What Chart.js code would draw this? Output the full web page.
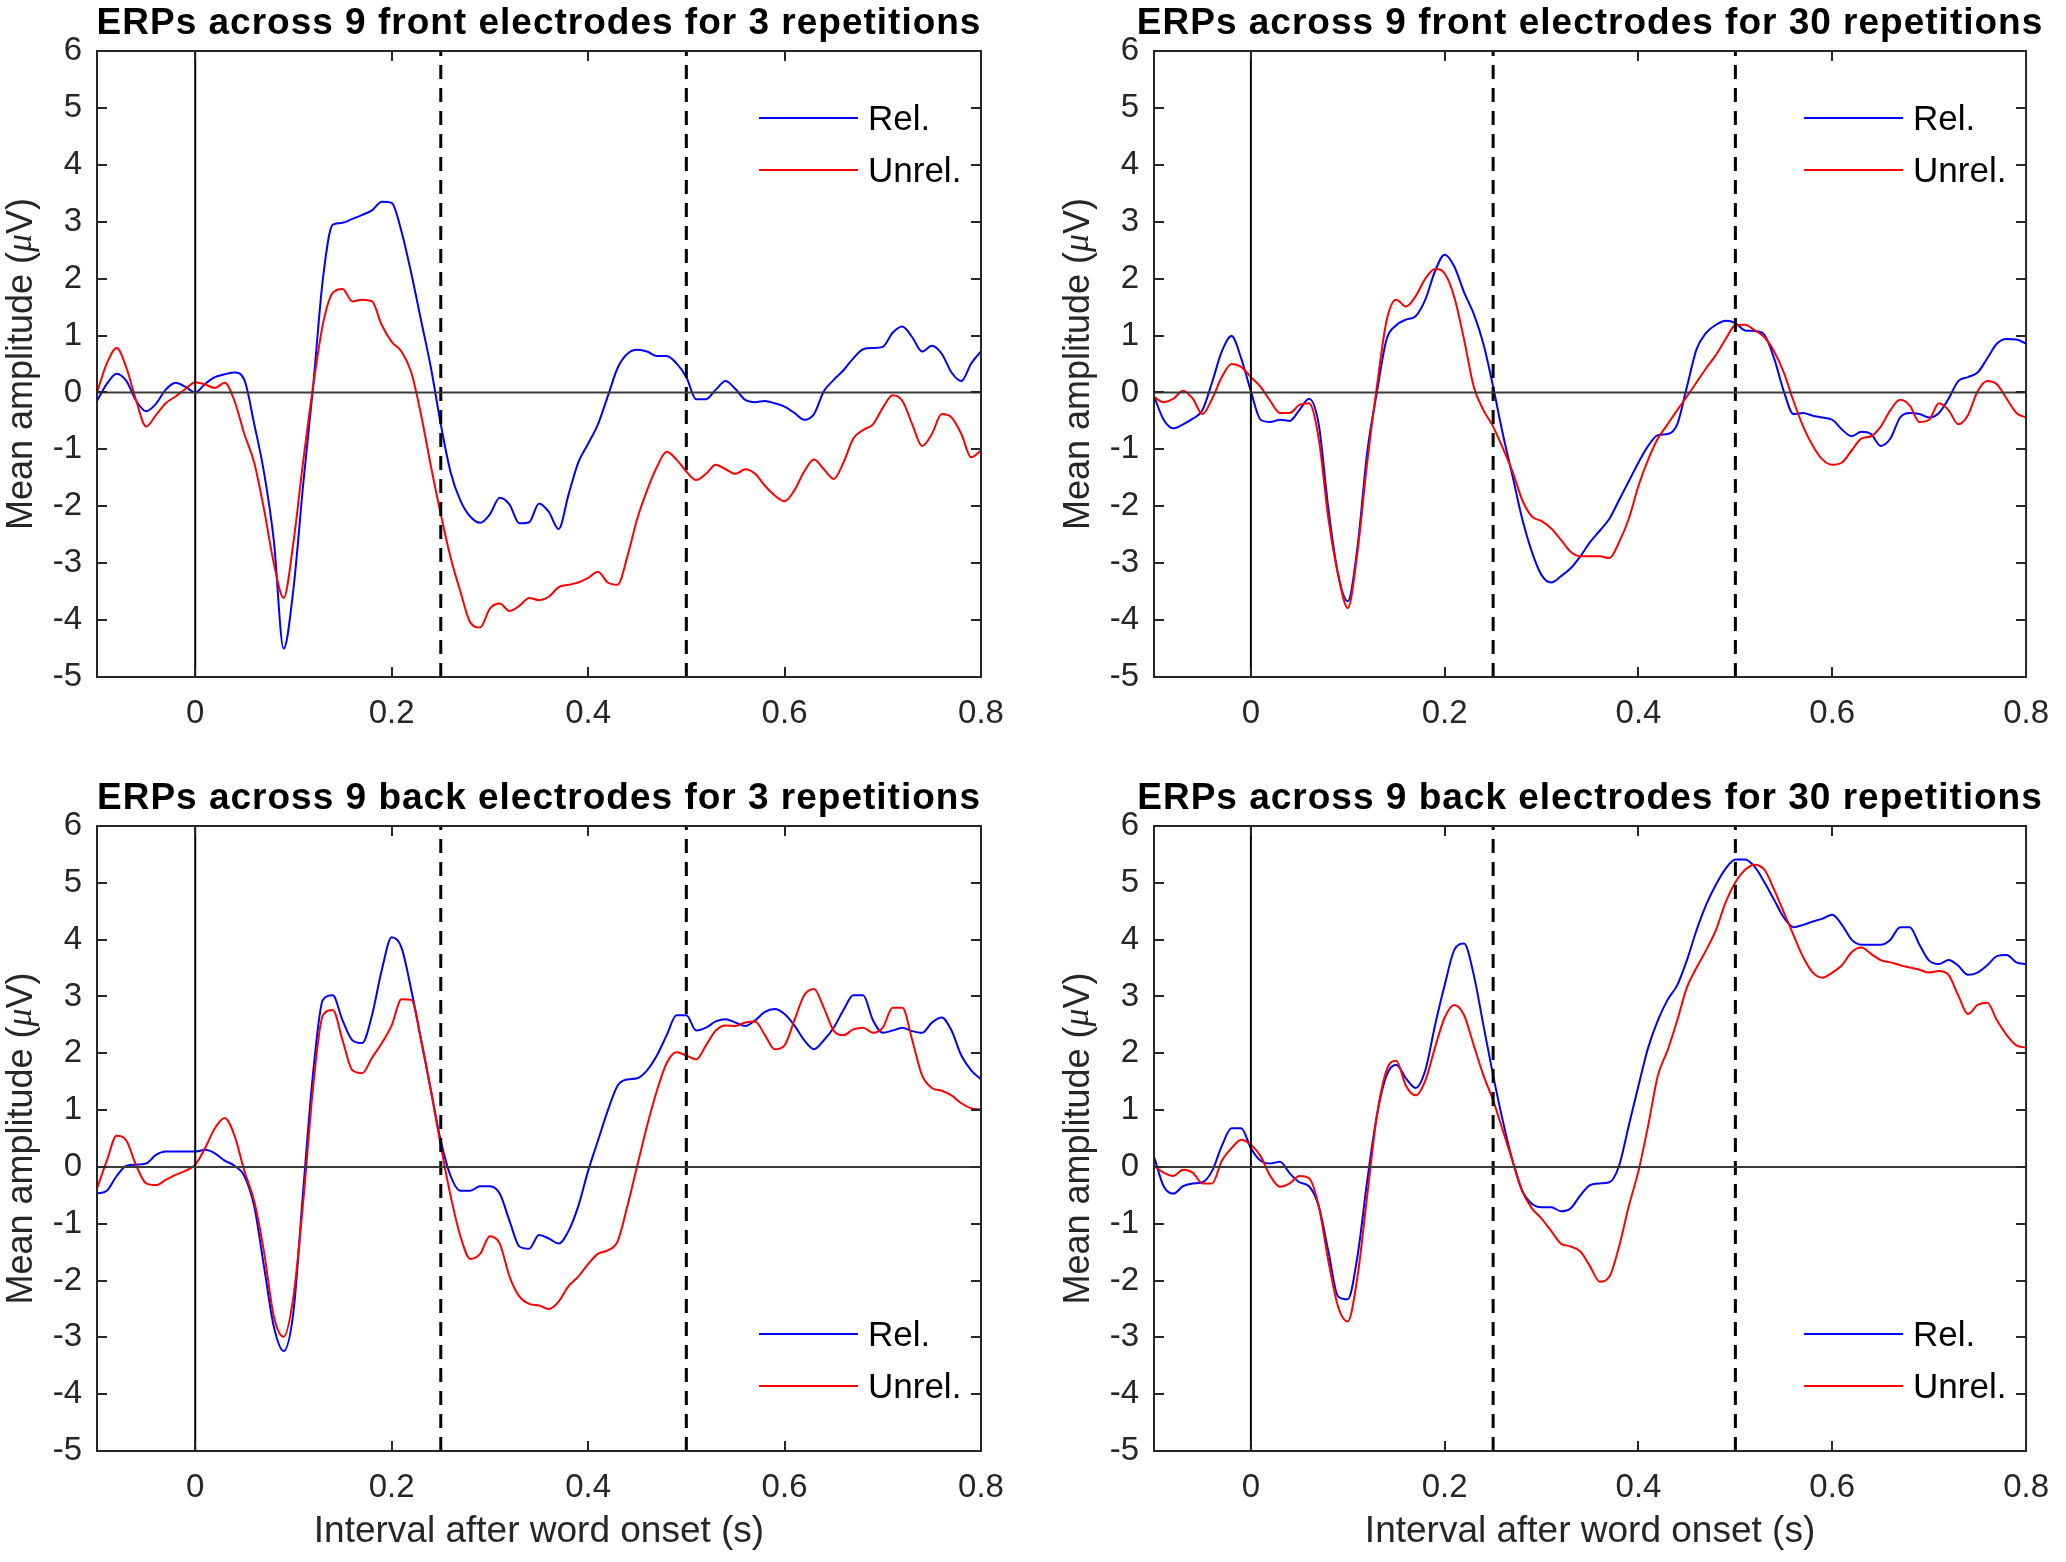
<!DOCTYPE html>
<html>
<head>
<meta charset="utf-8">
<title>ERPs across front and back electrodes</title>
<script src="https://cdn.jsdelivr.net/npm/chart.js@4.4.1/dist/chart.umd.min.js"></script>
<style>
  html, body { margin: 0; padding: 0; background: #fff; }
  #fig { position: relative; width: 2066px; height: 1562px; background: #fff; }
  .panel { position: absolute; }
</style>
</head>
<body>
<div id="fig">
  <div class="panel" style="left:0;top:0;width:1033px;height:775px"><canvas id="frontFew"></canvas></div>
  <div class="panel" style="left:1033px;top:0;width:1033px;height:775px"><canvas id="frontMany"></canvas></div>
  <div class="panel" style="left:0;top:775px;width:1033px;height:787px"><canvas id="backFew"></canvas></div>
  <div class="panel" style="left:1033px;top:775px;width:1033px;height:787px"><canvas id="backMany"></canvas></div>
</div>
<script>
// ── Axes ──
const xRange = [-0.1, 0.8];
const yRange = [-5, 6];
const xTicks = [0, 0.2, 0.4, 0.6, 0.8];
const yTicks = [-5, -4, -3, -2, -1, 0, 1, 2, 3, 4, 5, 6];
const onset = 0;
const windowEdges = [0.25, 0.5];

// sample times (s), one per 10 ms
const times = [
  -0.10, -0.09, -0.08, -0.07, -0.06, -0.05, -0.04, -0.03, -0.02, -0.01,
   0.00,  0.01,  0.02,  0.03,  0.04,  0.05,  0.06,  0.07,  0.08,  0.09,
   0.10,  0.11,  0.12,  0.13,  0.14,  0.15,  0.16,  0.17,  0.18,  0.19,
   0.20,  0.21,  0.22,  0.23,  0.24,  0.25,  0.26,  0.27,  0.28,  0.29,
   0.30,  0.31,  0.32,  0.33,  0.34,  0.35,  0.36,  0.37,  0.38,  0.39,
   0.40,  0.41,  0.42,  0.43,  0.44,  0.45,  0.46,  0.47,  0.48,  0.49,
   0.50,  0.51,  0.52,  0.53,  0.54,  0.55,  0.56,  0.57,  0.58,  0.59,
   0.60,  0.61,  0.62,  0.63,  0.64,  0.65,  0.66,  0.67,  0.68,  0.69,
   0.70,  0.71,  0.72,  0.73,  0.74,  0.75,  0.76,  0.77,  0.78,  0.79,
   0.80
];

// ── Mean amplitudes (µV) ──
const frontFewRel = [
  -0.15, 0.15, 0.33, 0.2, -0.15, -0.33, -0.2, 0.05, 0.17, 0.1,
  0.0, 0.15, 0.27, 0.32, 0.35, 0.22, -0.55, -1.4, -2.6, -4.5,
  -3.45, -1.6, 0.1, 2.0, 2.95, 2.98, 3.05, 3.12, 3.2, 3.35,
  3.33, 2.83, 2.09, 1.26, 0.43, -0.56, -1.4, -1.9, -2.18, -2.29,
  -2.14, -1.85, -1.97, -2.3, -2.28, -1.95, -2.1, -2.4, -1.8, -1.23,
  -0.9, -0.56, -0.07, 0.43, 0.68, 0.75, 0.72, 0.64, 0.64, 0.51,
  0.27, -0.12, -0.12, 0.05, 0.2, 0.06, -0.13, -0.17, -0.15, -0.19,
  -0.25, -0.36, -0.48, -0.38, 0.02, 0.22, 0.39, 0.6, 0.76, 0.78,
  0.8, 1.05, 1.16, 0.97, 0.72, 0.82, 0.68, 0.35, 0.2, 0.51,
  0.72
];
const frontFewUnrel = [
  0.0, 0.51, 0.78, 0.43, -0.15, -0.6, -0.4, -0.19, -0.07, 0.06,
  0.18, 0.14, 0.08, 0.17, -0.15, -0.73, -1.23, -2.05, -3.0, -3.61,
  -2.63, -1.2, 0.1, 1.2, 1.75, 1.82, 1.6, 1.63, 1.6, 1.18,
  0.89, 0.72, 0.35, -0.4, -1.3, -2.14, -2.9, -3.5, -4.04, -4.13,
  -3.8, -3.71, -3.84, -3.75, -3.61, -3.65, -3.59, -3.42, -3.38, -3.34,
  -3.26, -3.15, -3.34, -3.38, -2.88, -2.22, -1.72, -1.31, -1.04, -1.18,
  -1.39, -1.54, -1.43, -1.27, -1.35, -1.43, -1.35, -1.43, -1.64, -1.81,
  -1.91, -1.72, -1.39, -1.18, -1.35, -1.52, -1.23, -0.81, -0.66, -0.56,
  -0.27, -0.05, -0.15, -0.56, -0.94, -0.73, -0.38, -0.44, -0.73, -1.14,
  -1.02
];
const frontManyRel = [
  -0.07, -0.48, -0.63, -0.56, -0.46, -0.31, 0.18, 0.72, 0.99, 0.6,
  0.02, -0.48, -0.52, -0.48, -0.5, -0.31, -0.11, -0.56, -2.05, -3.2,
  -3.67, -2.72, -1.06, 0.0, 0.93, 1.18, 1.28, 1.34, 1.63, 2.13,
  2.42, 2.21, 1.76, 1.38, 0.85, 0.1, -0.73, -1.47, -2.22, -2.8,
  -3.21, -3.34, -3.23, -3.09, -2.88, -2.63, -2.43, -2.22, -1.89, -1.56,
  -1.23, -0.94, -0.75, -0.73, -0.56, 0.1, 0.76, 1.05, 1.19, 1.26,
  1.22, 1.09, 1.08, 1.01, 0.6, 0.02, -0.38, -0.36, -0.41, -0.44,
  -0.48, -0.65, -0.77, -0.69, -0.73, -0.94, -0.81, -0.44, -0.36, -0.38,
  -0.44, -0.36, -0.11, 0.2, 0.27, 0.35, 0.6, 0.86, 0.94, 0.93,
  0.86
];
const frontManyUnrel = [
  -0.08, -0.17, -0.11, 0.03, -0.11, -0.38, -0.11, 0.27, 0.5, 0.45,
  0.27, 0.1, -0.15, -0.36, -0.36, -0.22, -0.19, -0.81, -2.22, -3.2,
  -3.79, -2.8, -1.23, 0.1, 1.26, 1.63, 1.51, 1.69, 2.0, 2.17,
  2.09, 1.67, 0.93, 0.1, -0.31, -0.6, -0.98, -1.39, -1.89, -2.18,
  -2.26, -2.39, -2.59, -2.8, -2.88, -2.88, -2.88, -2.91, -2.63, -2.22,
  -1.64, -1.18, -0.81, -0.56, -0.31, -0.07, 0.18, 0.43, 0.66, 0.94,
  1.18, 1.19, 1.09, 0.97, 0.72, 0.35, -0.15, -0.6, -0.94, -1.18,
  -1.27, -1.23, -1.02, -0.81, -0.77, -0.6, -0.31, -0.13, -0.23, -0.52,
  -0.48, -0.19, -0.31, -0.56, -0.4, 0.02, 0.2, 0.14, -0.11, -0.36,
  -0.44
];
const backFewRel = [
  -0.47, -0.42, -0.16, 0.02, 0.04, 0.06, 0.21, 0.27, 0.27, 0.27,
  0.27, 0.3, 0.24, 0.11, 0.02, -0.16, -0.69, -1.75, -2.81, -3.24,
  -2.55, -0.4, 1.65, 2.94, 3.02, 2.58, 2.23, 2.18, 2.67, 3.47,
  4.04, 3.86, 3.11, 2.23, 1.34, 0.46, -0.16, -0.42, -0.42, -0.34,
  -0.34, -0.47, -0.95, -1.4, -1.44, -1.2, -1.26, -1.35, -1.13, -0.69,
  -0.07, 0.46, 0.99, 1.43, 1.54, 1.56, 1.7, 1.96, 2.32, 2.67,
  2.67, 2.4, 2.45, 2.56, 2.6, 2.54, 2.48, 2.58, 2.73, 2.78,
  2.69, 2.49, 2.23, 2.07, 2.23, 2.45, 2.76, 3.02, 3.02, 2.58,
  2.36, 2.4, 2.45, 2.39, 2.36, 2.54, 2.63, 2.4, 1.96, 1.7,
  1.54
];
const backFewUnrel = [
  -0.38, 0.11, 0.55, 0.46, 0.02, -0.29, -0.32, -0.23, -0.14, -0.07,
  0.04, 0.33, 0.68, 0.86, 0.55, -0.07, -0.6, -1.49, -2.63, -2.99,
  -2.28, -0.6, 1.4, 2.67, 2.76, 2.23, 1.7, 1.65, 1.92, 2.18,
  2.49, 2.95, 2.94, 2.23, 1.34, 0.37, -0.51, -1.22, -1.62, -1.53,
  -1.22, -1.35, -1.93, -2.28, -2.41, -2.44, -2.5, -2.37, -2.1, -1.93,
  -1.71, -1.53, -1.47, -1.31, -0.69, 0.02, 0.72, 1.34, 1.83, 2.02,
  1.96, 1.89, 2.14, 2.4, 2.49, 2.48, 2.54, 2.56, 2.32, 2.07,
  2.14, 2.58, 3.02, 3.13, 2.8, 2.4, 2.32, 2.42, 2.45, 2.36,
  2.45, 2.8, 2.8, 2.23, 1.61, 1.39, 1.34, 1.26, 1.12, 1.03,
  1.01
];
const backManyRel = [
  0.18, -0.34, -0.47, -0.34, -0.29, -0.27, -0.07, 0.37, 0.68, 0.68,
  0.33, 0.11, 0.06, 0.09, -0.11, -0.27, -0.34, -0.69, -1.49, -2.28,
  -2.33, -1.57, -0.25, 0.9, 1.61, 1.8, 1.56, 1.39, 1.7, 2.49,
  3.2, 3.82, 3.93, 3.38, 2.49, 1.61, 0.81, 0.11, -0.42, -0.65,
  -0.71, -0.71, -0.78, -0.73, -0.5, -0.32, -0.29, -0.27, 0.02, 0.73,
  1.43, 2.1, 2.58, 2.94, 3.2, 3.64, 4.17, 4.62, 4.97, 5.25,
  5.41, 5.41, 5.28, 5.01, 4.7, 4.39, 4.22, 4.26, 4.32, 4.37,
  4.44, 4.26, 4.0, 3.91, 3.91, 3.91, 4.0, 4.22, 4.22, 3.91,
  3.63, 3.57, 3.64, 3.54, 3.38, 3.42, 3.55, 3.71, 3.73, 3.6,
  3.57
];
const backManyUnrel = [
  0.02, -0.1, -0.16, -0.05, -0.1, -0.29, -0.29, 0.11, 0.33, 0.48,
  0.39, 0.19, -0.16, -0.35, -0.29, -0.16, -0.2, -0.69, -1.66, -2.46,
  -2.72, -1.93, -0.51, 0.9, 1.7, 1.87, 1.43, 1.26, 1.52, 2.1,
  2.63, 2.85, 2.67, 2.14, 1.61, 1.17, 0.64, 0.11, -0.42, -0.73,
  -0.91, -1.13, -1.35, -1.4, -1.49, -1.75, -2.02, -1.93, -1.4, -0.69,
  -0.07, 0.73, 1.61, 2.05, 2.58, 3.16, 3.51, 3.82, 4.17, 4.66,
  5.01, 5.23, 5.32, 5.23, 4.88, 4.48, 4.08, 3.69, 3.42, 3.33,
  3.42, 3.55, 3.78, 3.86, 3.75, 3.64, 3.6, 3.55, 3.51, 3.47,
  3.42, 3.45, 3.38, 3.02, 2.69, 2.85, 2.89, 2.58, 2.32, 2.14,
  2.1
];

const FONT = "'Liberation Sans', Arial, Helvetica, sans-serif";
const AXIS_COLOR = '#262626';

// Box, inward ticks, titles and legend drawn the MATLAB way
const matlabAxes = {
  id: 'matlabAxes',
  afterDatasetsDraw(chart, args, opts) {
    const { ctx, chartArea: a } = chart;
    const sx = chart.scales.x, sy = chart.scales.y;
    const cx = (a.left + a.right) / 2;
    ctx.save();

    // ── box + ticks ──
    ctx.strokeStyle = AXIS_COLOR;
    ctx.lineWidth = 2;
    ctx.beginPath();
    xTicks.forEach(v => {
      const p = Math.round(sx.getPixelForValue(v));
      ctx.moveTo(p, a.bottom); ctx.lineTo(p, a.bottom - 10);
      ctx.moveTo(p, a.top);    ctx.lineTo(p, a.top + 10);
    });
    yTicks.forEach(v => {
      const p = Math.round(sy.getPixelForValue(v));
      ctx.moveTo(a.left, p);  ctx.lineTo(a.left + 10, p);
      ctx.moveTo(a.right, p); ctx.lineTo(a.right - 10, p);
    });
    ctx.stroke();
    ctx.strokeRect(a.left, a.top, a.right - a.left, a.bottom - a.top);

    // ── panel title ──
    ctx.fillStyle = '#000';
    ctx.textAlign = 'center';
    ctx.textBaseline = 'middle';
    ctx.font = `bold 37px ${FONT}`;
    ctx.letterSpacing = '1px';
    ctx.fillText(opts.title, cx, a.top - 27);
    ctx.letterSpacing = '0px';

    // ── x title ──
    if (opts.xTitle) {
      ctx.fillStyle = AXIS_COLOR;
      ctx.font = `37px ${FONT}`;
      ctx.fillText(opts.xTitle, cx, a.bottom + 81);
    }

    // ── y title with italic mu ──
    ctx.save();
    ctx.translate(a.left - 75, (a.top + a.bottom) / 2);
    ctx.rotate(-Math.PI / 2);
    ctx.fillStyle = AXIS_COLOR;
    ctx.textAlign = 'left';
    const parts = [
      ['Mean amplitude (', `36px ${FONT}`],
      ['\u03BC', `italic 36px 'Liberation Serif', serif`],
      ['V)', `36px ${FONT}`]
    ];
    let total = 0;
    parts.forEach(([s, f]) => { ctx.font = f; total += ctx.measureText(s).width; });
    let px = -total / 2;
    parts.forEach(([s, f]) => { ctx.font = f; ctx.fillText(s, px, 0); px += ctx.measureText(s).width; });
    ctx.restore();

    // ── legend ──
    const rows = chart.data.datasets.filter(d => d.inLegend);
    const y0 = opts.legendAt === 'top' ? a.top + 67 : a.bottom - 117;
    ctx.textAlign = 'left';
    ctx.font = `35px ${FONT}`;
    rows.forEach((d, i) => {
      const yy = y0 + i * 52;
      ctx.strokeStyle = d.borderColor;
      ctx.lineWidth = 2;
      ctx.beginPath();
      ctx.moveTo(a.right - 222, yy);
      ctx.lineTo(a.right - 123, yy);
      ctx.stroke();
      ctx.fillStyle = '#000';
      ctx.fillText(d.label, a.right - 113, yy + 2);
    });

    ctx.restore();
  }
};

function series(vals) {
  return times.map((t, i) => ({ x: t, y: vals[i] }));
}

function refLine(points, color, width, dash) {
  return {
    data: points, borderColor: color, borderWidth: width, borderDash: dash,
    pointRadius: 0, tension: 0, order: 0
  };
}

function makePanel(id, cfg) {
  const datasets = [
    refLine([{ x: xRange[0], y: 0 }, { x: xRange[1], y: 0 }], '#3a3a3a', 2, []),
    refLine([{ x: onset, y: yRange[0] }, { x: onset, y: yRange[1] }], '#000', 2, []),
    ...windowEdges.map(t => refLine([{ x: t, y: yRange[0] }, { x: t, y: yRange[1] }], '#000', 3, [14, 9])),
    {
      label: 'Rel.', inLegend: true, data: series(cfg.rel),
      borderColor: '#0000ff', borderWidth: 2, pointRadius: 0,
      cubicInterpolationMode: 'monotone', order: 2
    },
    {
      label: 'Unrel.', inLegend: true, data: series(cfg.unrel),
      borderColor: '#ff0000', borderWidth: 2, pointRadius: 0,
      cubicInterpolationMode: 'monotone', order: 1
    }
  ];

  const tickFont = { family: FONT, size: 33 };

  return new Chart(document.getElementById(id), {
    type: 'line',
    data: { datasets },
    plugins: [matlabAxes],
    options: {
      responsive: true,
      maintainAspectRatio: false,
      animation: false,
      devicePixelRatio: 1,
      layout: { padding: { left: 0, top: 51, right: cfg.padRight, bottom: 0 } },
      plugins: {
        legend: { display: false },
        tooltip: { enabled: false },
        matlabAxes: { title: cfg.title, xTitle: cfg.xTitle, legendAt: cfg.legendAt }
      },
      scales: {
        x: {
          type: 'linear', min: xRange[0], max: xRange[1],
          grid: { display: false, drawTicks: false },
          border: { display: false },
          afterBuildTicks: s => { s.ticks = xTicks.map(v => ({ value: v })); },
          afterFit: s => { s.height = cfg.xHeight; },
          ticks: {
            padding: 17, font: tickFont, color: AXIS_COLOR,
            maxRotation: 0, autoSkip: false, callback: v => String(v)
          }
        },
        y: {
          type: 'linear', min: yRange[0], max: yRange[1],
          grid: { display: false, drawTicks: false },
          border: { display: false },
          afterBuildTicks: s => { s.ticks = yTicks.map(v => ({ value: v })); },
          afterFit: s => { s.width = cfg.yWidth; },
          ticks: {
            padding: 15, font: tickFont, color: AXIS_COLOR,
            autoSkip: false, callback: v => String(v)
          }
        }
      }
    }
  });
}

makePanel('frontFew', {
  title: 'ERPs across 9 front electrodes for 3 repetitions',
  rel: frontFewRel, unrel: frontFewUnrel, legendAt: 'top',
  yWidth: 97, padRight: 52, xHeight: 98
});
makePanel('frontMany', {
  title: 'ERPs across 9 front electrodes for 30 repetitions',
  rel: frontManyRel, unrel: frontManyUnrel, legendAt: 'top',
  yWidth: 121, padRight: 29, xHeight: 98
});
makePanel('backFew', {
  title: 'ERPs across 9 back electrodes for 3 repetitions',
  rel: backFewRel, unrel: backFewUnrel, legendAt: 'bottom',
  xTitle: 'Interval after word onset (s)',
  yWidth: 97, padRight: 52, xHeight: 111
});
makePanel('backMany', {
  title: 'ERPs across 9 back electrodes for 30 repetitions',
  rel: backManyRel, unrel: backManyUnrel, legendAt: 'bottom',
  xTitle: 'Interval after word onset (s)',
  yWidth: 121, padRight: 29, xHeight: 111
});
</script>
</body>
</html>
